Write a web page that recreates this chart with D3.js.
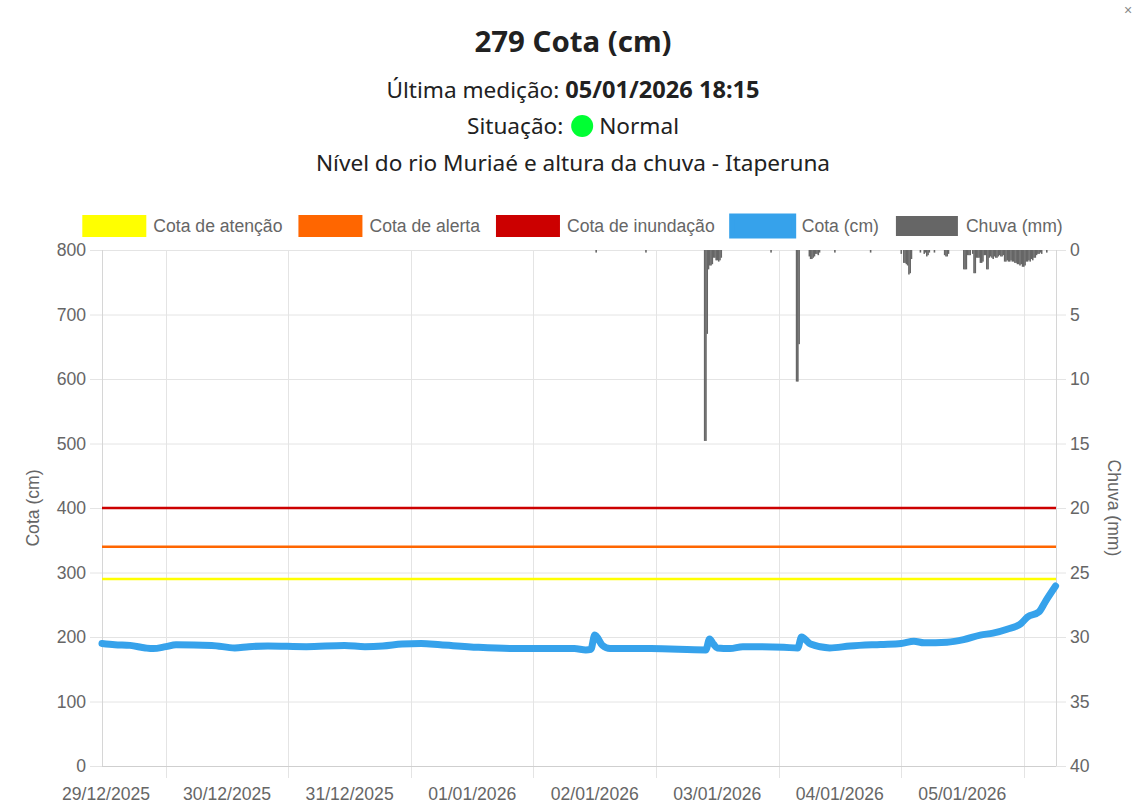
<!DOCTYPE html>
<html>
<head>
<meta charset="utf-8">
<script src="https://cdn.jsdelivr.net/npm/d3@7"></script>
<style>
  html, body { margin: 0; padding: 0; background: #fff; }
  svg { display: block; }
</style>
</head>
<body>
<svg id="chart" width="1146" height="810"></svg>
<script>
// ---------- DATA ----------
const stationLevel = 279;
const lastMeasurement = "05/01/2026 18:15";
const situation = "Normal";
const subtitle = "Nível do rio Muriaé e altura da chuva - Itaperuna";

const cotaAtencao = 290;
const cotaAlerta = 340;
const cotaInundacao = 400;

const legendLabels = ["Cota de atenção", "Cota de alerta", "Cota de inundação", "Cota (cm)", "Chuva (mm)"];
const legendColors = ["#ffff00", "#ff6600", "#cc0000", "#36a2eb", "#666666"];

const leftTicks = [0, 100, 200, 300, 400, 500, 600, 700, 800];
const rightTicks = [0, 5, 10, 15, 20, 25, 30, 35, 40];
const xTickDates = ["2025-12-29T00:00", "2025-12-30T00:00", "2025-12-31T00:00", "2026-01-01T00:00",
                    "2026-01-02T00:00", "2026-01-03T00:00", "2026-01-04T00:00", "2026-01-05T00:00"];

// River level (cm)
const cotaTimes = [
  "2025-12-28T23:30","2025-12-29T02:00","2025-12-29T05:00","2025-12-29T08:00","2025-12-29T09:30",
  "2025-12-29T12:00","2025-12-29T14:00","2025-12-29T21:00","2025-12-30T01:30","2025-12-30T04:15",
  "2025-12-30T08:00","2025-12-30T15:30","2025-12-30T23:00","2025-12-31T03:00","2025-12-31T06:30",
  "2025-12-31T10:15","2025-12-31T14:00","2025-12-31T17:45","2026-01-01T01:15","2026-01-01T08:45",
  "2026-01-01T20:00","2026-01-01T22:15","2026-01-01T23:15","2026-01-02T00:00","2026-01-02T01:30",
  "2026-01-02T03:00","2026-01-02T11:00","2026-01-02T21:45","2026-01-02T22:30","2026-01-02T23:15",
  "2026-01-03T00:00","2026-01-03T02:30","2026-01-03T05:00","2026-01-03T13:00","2026-01-03T15:45",
  "2026-01-03T16:30","2026-01-03T18:15","2026-01-03T22:00","2026-01-04T02:00","2026-01-04T08:00",
  "2026-01-04T12:00","2026-01-04T14:30","2026-01-04T16:30","2026-01-04T21:00","2026-01-05T00:15",
  "2026-01-05T03:30","2026-01-05T06:00","2026-01-05T08:45","2026-01-05T11:30","2026-01-05T12:45",
  "2026-01-05T15:00","2026-01-05T16:15","2026-01-05T18:15"
];
const cotaValues = [
  190, 188, 187, 183, 182,
  185, 188, 187, 183, 185,
  186, 185, 187, 185, 186,
  189, 190, 188, 184, 182,
  182, 180, 181, 203, 187,
  182, 182, 180, 197, 189,
  183, 182, 185, 184, 183,
  200, 189, 183, 186, 188.5,
  190, 193.5, 191, 192, 196,
  203, 206, 212, 221, 231,
  239, 255, 279
];

// Rainfall (mm per 15 min) — only non-zero readings
const rainTimes = [
  "2026-01-02T00:15","2026-01-02T10:00",
  "2026-01-02T21:30","2026-01-02T21:45","2026-01-02T22:00","2026-01-02T22:15","2026-01-02T22:30",
  "2026-01-02T22:45","2026-01-02T23:00","2026-01-02T23:15","2026-01-02T23:30","2026-01-02T23:45",
  "2026-01-03T00:00","2026-01-03T00:15","2026-01-03T00:30","2026-01-03T00:45",
  "2026-01-03T10:30",
  "2026-01-03T15:30","2026-01-03T15:45","2026-01-03T16:00",
  "2026-01-03T18:00","2026-01-03T18:15","2026-01-03T18:30","2026-01-03T18:45","2026-01-03T19:00",
  "2026-01-03T19:15","2026-01-03T19:30","2026-01-03T19:45","2026-01-03T20:00",
  "2026-01-03T23:00","2026-01-04T06:00",
  "2026-01-04T12:00","2026-01-04T12:30","2026-01-04T12:45","2026-01-04T13:00","2026-01-04T13:15",
  "2026-01-04T13:30","2026-01-04T13:45","2026-01-04T14:00",
  "2026-01-04T15:45","2026-01-04T16:30","2026-01-04T16:45","2026-01-04T17:00","2026-01-04T17:15",
  "2026-01-04T17:30","2026-01-04T18:30","2026-01-04T20:30","2026-01-04T20:45","2026-01-04T21:00",
  "2026-01-04T21:15",
  "2026-01-05T00:15","2026-01-05T00:30","2026-01-05T00:45","2026-01-05T01:00","2026-01-05T01:15",
  "2026-01-05T01:30","2026-01-05T02:00","2026-01-05T02:15","2026-01-05T02:30","2026-01-05T02:45",
  "2026-01-05T03:00","2026-01-05T03:15","2026-01-05T03:30","2026-01-05T03:45","2026-01-05T04:00",
  "2026-01-05T04:15","2026-01-05T04:30","2026-01-05T04:45","2026-01-05T05:00","2026-01-05T05:15",
  "2026-01-05T05:30","2026-01-05T05:45","2026-01-05T06:00","2026-01-05T06:15","2026-01-05T06:30",
  "2026-01-05T06:45","2026-01-05T07:00","2026-01-05T07:15","2026-01-05T07:30","2026-01-05T07:45",
  "2026-01-05T08:00","2026-01-05T08:15","2026-01-05T08:30","2026-01-05T08:45","2026-01-05T09:00",
  "2026-01-05T09:15","2026-01-05T09:30","2026-01-05T09:45","2026-01-05T10:00","2026-01-05T10:15",
  "2026-01-05T10:30","2026-01-05T10:45","2026-01-05T11:00","2026-01-05T11:15","2026-01-05T11:30",
  "2026-01-05T11:45","2026-01-05T12:00","2026-01-05T12:15","2026-01-05T12:30","2026-01-05T12:45",
  "2026-01-05T13:00","2026-01-05T13:15","2026-01-05T13:30","2026-01-05T13:45","2026-01-05T14:00",
  "2026-01-05T14:15","2026-01-05T14:30","2026-01-05T14:45","2026-01-05T15:00","2026-01-05T15:15",
  "2026-01-05T15:30","2026-01-05T16:30"
];
const rainValues = [
  0.2, 0.2,
  14.8, 14.8, 6.5, 1.5, 1.2,
  1.2, 1.1, 0.6, 0.6, 0.8,
  0.8, 0.9, 0.8, 0.6,
  0.2,
  10.2, 10.2, 7.3,
  0.5, 0.7, 0.7, 0.6, 0.5,
  0.3, 0.3, 0.4, 0.2,
  0.2, 0.2,
  0.3, 1.0, 1.0, 1.1, 1.2,
  1.9, 1.8, 0.7,
  0.2, 0.3, 0.2, 0.5, 0.4,
  0.2, 0.2, 0.4, 0.5, 0.5,
  0.3,
  1.5, 1.5, 1.5, 0.4, 0.4,
  0.4, 0.3, 1.8, 1.8, 0.6,
  0.6, 0.6, 1.0, 1.0, 0.9,
  0.4, 0.4, 1.5, 1.5, 0.6,
  0.5, 0.6, 0.7, 0.5, 0.6,
  0.6, 0.5, 0.4, 0.5, 0.5,
  0.4, 0.9, 0.9, 0.8, 0.9,
  0.9, 0.8, 0.9, 0.9, 1.0,
  1.0, 1.1, 1.1, 1.2, 1.1,
  1.3, 1.3, 1.2, 0.9, 0.9,
  0.8, 0.9, 0.7, 0.8, 0.6,
  0.6, 0.4, 0.3, 0.3, 0.2,
  0.3, 0.2
];

// ---------- CHART ----------
const parse = d3.timeParse("%Y-%m-%dT%H:%M");
const W = 1146, H = 810;
const pL = 102, pR = 1056, pT = 250, pB = 766;
const tickFont = "'Liberation Sans', Arial, Helvetica, sans-serif";
const titleFont = "'Noto Sans', 'Open Sans', sans-serif";
const gray = "#666";

const svg = d3.select("#chart");

const x = d3.scaleTime()
  .domain([parse("2025-12-28T23:30"), parse("2026-01-05T18:20")])
  .range([pL, pR]);
const y = d3.scaleLinear().domain([0, 800]).range([pB, pT]);
const y2 = d3.scaleLinear().domain([0, 40]).range([pT, pB]);

// Header texts
svg.append("text").attr("x", W / 2).attr("y", 52).attr("text-anchor", "middle")
  .attr("font-family", titleFont).attr("font-weight", "bold").attr("font-size", 29.4)
  .attr("fill", "#212121").text(stationLevel + " Cota (cm)");

const t2 = svg.append("text").attr("x", W / 2).attr("y", 98).attr("text-anchor", "middle")
  .attr("font-family", titleFont).attr("font-size", 22.6).attr("fill", "#212121");
t2.append("tspan").text("Última medição: ");
t2.append("tspan").attr("font-weight", "bold").attr("font-size", 23.6).text(lastMeasurement);

const dotGap = 30;
const t3 = svg.append("text").attr("y", 134)
  .attr("font-family", titleFont).attr("font-size", 22.6).attr("fill", "#212121");
const t3a = t3.append("tspan").text("Situação: ");
const t3b = t3.append("tspan").attr("dx", dotGap).text(situation);
const w3 = t3a.node().getComputedTextLength() + t3b.node().getComputedTextLength() + dotGap;
const x3 = W / 2 - w3 / 2;
t3.attr("x", x3);
const wa = t3a.node().getComputedTextLength();
svg.append("circle").attr("cx", x3 + wa + 13).attr("cy", 126).attr("r", 11).attr("fill", "#00ff33");

svg.append("text").attr("x", W / 2).attr("y", 171).attr("text-anchor", "middle")
  .attr("font-family", titleFont).attr("font-size", 22.6).attr("fill", "#212121").text(subtitle);

// close mark
svg.append("text").attr("x", 1128).attr("y", 15).attr("text-anchor", "middle")
  .attr("font-family", tickFont).attr("font-size", 14).attr("fill", "#888").text("×");

// Legend
const lg = svg.append("g").attr("font-family", tickFont).attr("font-size", 17.6).attr("fill", gray);
const boxW = 62, boxH = 20, gapText = 8, itemGap = 17;
const borderWs = [2, 2, 2, 5, 0];
const items = legendLabels.map((lab, i) => {
  const g = lg.append("g");
  g.append("rect").attr("width", boxW).attr("height", boxH).attr("y", 216)
    .attr("fill", legendColors[i]).attr("stroke", legendColors[i]).attr("stroke-width", borderWs[i]);
  const tx = g.append("text").attr("x", boxW + gapText).attr("y", 232).text(lab);
  return { g, w: boxW + gapText + tx.node().getComputedTextLength() };
});
const totalW = d3.sum(items, d => d.w) + itemGap * (items.length - 1);
let cx = W / 2 - totalW / 2;
items.forEach(it => { it.g.attr("transform", `translate(${cx},0)`); cx += it.w + itemGap; });

// Grid
const grid = svg.append("g").attr("stroke", "#e4e4e4").attr("stroke-width", 1);
grid.selectAll("line.h").data(leftTicks).join("line")
  .attr("x1", pL - 12).attr("x2", pR + 10)
  .attr("y1", d => y(d) + 0.5).attr("y2", d => y(d) + 0.5);
const noonDates = xTickDates.map(s => d3.timeHour.offset(parse(s), 12));
grid.selectAll("line.v").data(noonDates).join("line")
  .attr("x1", d => Math.round(x(d)) + 0.5).attr("x2", d => Math.round(x(d)) + 0.5)
  .attr("y1", pT).attr("y2", pB + 12);
// axis borders
svg.append("line").attr("x1", pL + 0.5).attr("x2", pL + 0.5).attr("y1", pT).attr("y2", pB)
  .attr("stroke", "#d6d6d6");
svg.append("line").attr("x1", pR + 0.5).attr("x2", pR + 0.5).attr("y1", pT).attr("y2", pB)
  .attr("stroke", "#d6d6d6");
svg.append("line").attr("x1", pL).attr("x2", pR).attr("y1", pB + 0.5).attr("y2", pB + 0.5)
  .attr("stroke", "#cfcfcf");

// Tick labels
const tl = svg.append("g").attr("font-family", tickFont).attr("font-size", 17.6).attr("fill", gray);
tl.selectAll("text.l").data(leftTicks).join("text")
  .attr("x", 86).attr("y", d => y(d) + 6).attr("text-anchor", "end").text(d => d);
tl.selectAll("text.r").data(rightTicks).join("text")
  .attr("x", 1070).attr("y", d => y2(d) + 6).attr("text-anchor", "start").text(d => d);
const fmt = d3.timeFormat("%d/%m/%Y");
tl.selectAll("text.x").data(xTickDates.map(parse)).join("text")
  .attr("x", d => Math.max(x(d), 106)).attr("y", 800).attr("text-anchor", "middle").text(d => fmt(d));

// Axis titles
svg.append("text").attr("transform", `translate(39,${(pT + pB) / 2}) rotate(-90)`)
  .attr("text-anchor", "middle").attr("font-family", tickFont).attr("font-size", 17.6).attr("fill", gray)
  .text("Cota (cm)");
svg.append("text").attr("transform", `translate(1108,${(pT + pB) / 2}) rotate(90)`)
  .attr("text-anchor", "middle").attr("font-family", tickFont).attr("font-size", 17.6).attr("fill", gray)
  .text("Chuva (mm)");

// Threshold lines
const thr = [[cotaAtencao, legendColors[0]], [cotaAlerta, legendColors[1]], [cotaInundacao, legendColors[2]]];
svg.append("g").selectAll("line").data(thr).join("line")
  .attr("x1", pL).attr("x2", pR)
  .attr("y1", d => y(d[0])).attr("y2", d => y(d[0]))
  .attr("stroke", d => d[1]).attr("stroke-width", 2.5);

// Rain bars
const rain = rainTimes.map((t, i) => ({ t: parse(t), v: rainValues[i] }));
const step = x(parse("2026-01-01T00:15")) - x(parse("2026-01-01T00:00"));
svg.append("g").selectAll("rect").data(rain).join("rect")
  .attr("x", d => x(d.t) - step / 2).attr("width", step + 0.3)
  .attr("y", y2(0)).attr("height", d => y2(d.v) - y2(0))
  .attr("fill", legendColors[4]);

// Cota line
const cota = cotaTimes.map((t, i) => ({ t: parse(t), v: cotaValues[i] }));
const line = d3.line().x(d => x(d.t)).y(d => y(d.v)).curve(d3.curveMonotoneX);
svg.append("path").datum(cota).attr("d", line)
  .attr("fill", "none").attr("stroke", legendColors[3]).attr("stroke-width", 7)
  .attr("stroke-linejoin", "round").attr("stroke-linecap", "round");
</script>
</body>
</html>
